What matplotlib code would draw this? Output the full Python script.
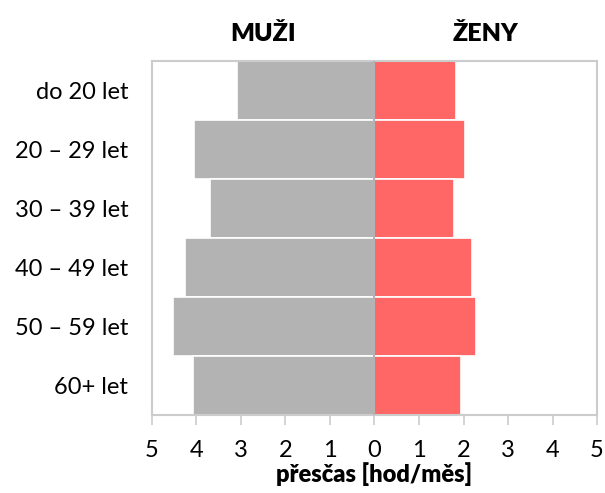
import matplotlib.pyplot as plt

plt.rcParams['font.family'] = ['Lato', 'DejaVu Sans']

categories = ["do 20 let", "20 – 29 let", "30 – 39 let", "40 – 49 let", "50 – 59 let", "60+ let"]
muzi = [3.09, 4.06, 3.69, 4.25, 4.52, 4.07]
zeny = [1.84, 2.04, 1.79, 2.20, 2.27, 1.95]
xticks = [-5, -4, -3, -2, -1, 0, 1, 2, 3, 4, 5]
xticklabels = ["5", "4", "3", "2", "1", "0", "1", "2", "3", "4", "5"]

fig = plt.figure(figsize=(6.05, 4.93), dpi=100)
ax = fig.add_axes([0.2512, 0.1582, 0.7356, 0.7181])

pos = list(range(len(categories)))
ax.barh(pos, [-v for v in muzi], height=1.0, color="#b3b3b3", edgecolor="white", linewidth=1.2)
ax.barh(pos, zeny, height=1.0, color="#ff6666", edgecolor="white", linewidth=1.2)
ax.axvline(0, color="#b3b3b3", linewidth=1.5, zorder=3)

ax.set_xlim(-5, 5)
ax.set_ylim(len(categories) - 0.5, -0.5)
ax.set_yticks(pos)
ax.set_yticklabels(categories, fontsize=17)
ax.tick_params(axis="y", length=0, pad=17)
ax.set_xticks(xticks)
ax.set_xticklabels(xticklabels, fontsize=17)
ax.tick_params(axis="x", length=7, width=1.2, color="#cccccc", pad=11)

for s in ax.spines.values():
    s.set_color("#cccccc")
    s.set_linewidth(1.5)

ax.set_xlabel("přesčas [hod/měs]", fontsize=17, fontweight="heavy", labelpad=1)
ax.text(-2.5, 1.045, "MUŽI", transform=ax.get_xaxis_transform(), ha="center", va="bottom",
        fontsize=18, fontweight="heavy")
ax.text(2.5, 1.045, "ŽENY", transform=ax.get_xaxis_transform(), ha="center", va="bottom",
        fontsize=18, fontweight="heavy")

plt.savefig("out.png", dpi=100)
